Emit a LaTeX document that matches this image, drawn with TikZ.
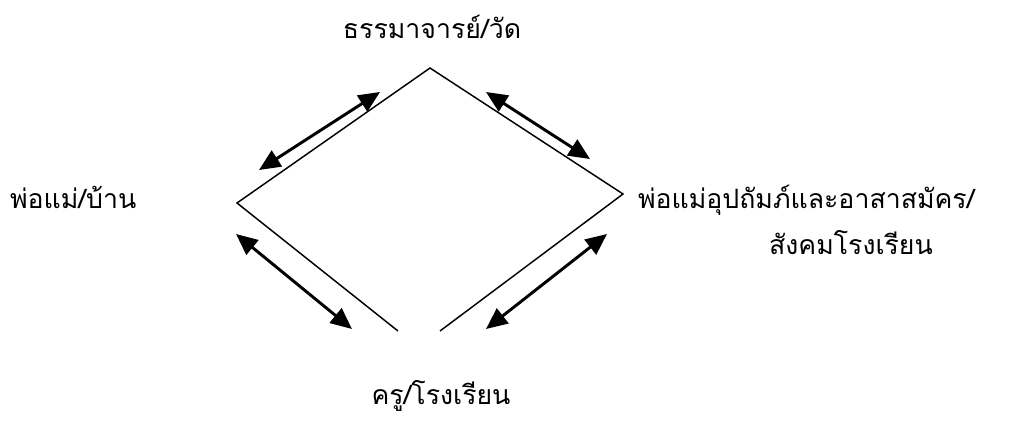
\documentclass[tikz,border=0pt]{standalone}
\usepackage{fontspec}
\newfontfamily\thaifont[Script=Thai]{Loma}
\usetikzlibrary{arrows.meta}
\begin{document}
\begin{tikzpicture}[x=0.75pt,y=-0.75pt,
  edge/.style={line width=1.1pt,black},
  link/.style={line width=2.2pt,black,{Triangle[length=16pt,width=14pt]}-{Triangle[length=16pt,width=14pt]}},
  lbl/.style={font=\thaifont\fontsize{20}{24}\selectfont,inner sep=0pt,outer sep=0pt}]
\useasboundingbox (0,0) rectangle (1030,421);
% diamond corners
\coordinate (T) at (430,68);
\coordinate (L) at (237,203);
\coordinate (R) at (623,194);
\coordinate (BL) at (398,331);
\coordinate (BR) at (440,331);
\draw[edge] (BL) -- (L) -- (T) -- (R) -- (BR);
% arrow ends
\coordinate (a1) at (259,170); \coordinate (a2) at (380,92);
\coordinate (b1) at (486,92);  \coordinate (b2) at (590,159);
\coordinate (c1) at (236,234); \coordinate (c2) at (352,329);
\coordinate (d1) at (486,329); \coordinate (d2) at (607,234);
\draw[link] (a1) -- (a2);
\draw[link] (b1) -- (b2);
\draw[link] (c1) -- (c2);
\draw[link] (d1) -- (d2);
% labels
\node[lbl,anchor=base] (top) at (432,38) {ธรรมาจารย์/วัด};
\node[lbl,anchor=base west] (left) at (10,208) {พ่อแม่/บ้าน};
\node[lbl,anchor=base west] (right1) at (638,208) {พ่อแม่อุปถัมภ์และอาสาสมัคร/};
\node[lbl,anchor=base] (right2) at (851,254) {สังคมโรงเรียน};
\node[lbl,anchor=base] (bottom) at (441,404) {ครู/โรงเรียน};
\end{tikzpicture}
\end{document}
